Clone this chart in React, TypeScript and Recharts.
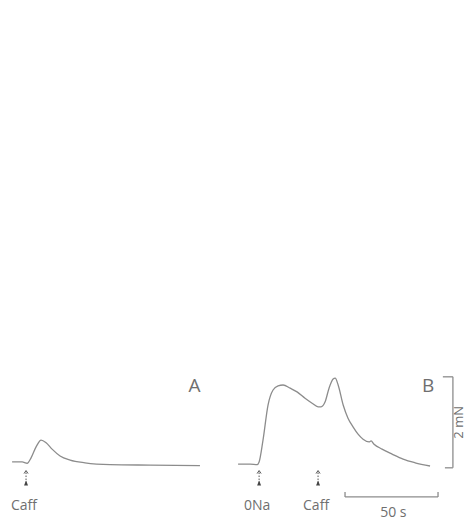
import React from 'react';
import { LineChart, Line, XAxis, YAxis, ReferenceLine, ReferenceDot } from 'recharts';

// Trace A: caffeine alone (time in s from trace start, force in mN)
const timeA = [0, 5.4, 8.1, 10.2, 12.9, 15.6, 18.3, 21.5, 25.8, 31.2, 39.2, 52.7, 74.2, 101];
const forceA = [0.09, 0.09, 0.06, 0.18, 0.42, 0.57, 0.51, 0.37, 0.22, 0.13, 0.07, 0.03, 0.02, 0.01];

// Trace B: 0Na then caffeine
const timeB = [0, 6.5, 10.2, 11.3, 13.4, 16.1, 18.8, 21.5, 24.2, 28, 31.7, 36, 39.8, 43, 44.6, 46.8, 48.9, 51.1, 52.2, 53.8, 56.5, 59.1, 61.8, 64.5, 67.2, 70.4, 71.5, 73.1, 77.4, 82.8, 88.7, 95.2, 103.2];
const forceB = [0.04, 0.04, 0.03, 0.09, 0.57, 1.34, 1.67, 1.76, 1.78, 1.71, 1.63, 1.49, 1.38, 1.3, 1.3, 1.41, 1.71, 1.91, 1.93, 1.78, 1.34, 1.05, 0.86, 0.7, 0.59, 0.53, 0.55, 0.48, 0.37, 0.26, 0.15, 0.07, 0.0];

// where each trace starts on the shared time axis (s)
const START_A = 6.5;
const START_B = 128;

// drug application markers: label, time within trace, trace start
const eventLabels = ['Caff', '0Na', 'Caff'];
const eventTimes = [7.5, 11.3, 43];
const eventStarts = [START_A, START_B, START_B];

const panelLabels = ['A', 'B'];
const panelLabelTimes = [104.6, 230.2];

// calibration
const FORCE_BAR = 2; // mN
const TIME_BAR = 50; // s
const forceBarLabel = '2 mN';
const timeBarLabel = '50 s';

const X_DOMAIN: [number, number] = [0, 254.3];
const Y_DOMAIN: [number, number] = [-1.187, 10.242];

const INK = '#8c8c8c';
const TEXT = '#6f6f6f';
const FONT = '"Open Sans", "DejaVu Sans", sans-serif';

const dataA = timeA.map((t, i) => ({ t: t + START_A, f: forceA[i] }));
const dataB = timeB.map((t, i) => ({ t: t + START_B, f: forceB[i] }));

const arrowShape = (label: string) => (p: any) => {
  const { cx, cy } = p;
  return (
    <g>
      <line x1={cx} y1={cy + 2} x2={cx} y2={cy + 14} stroke="#555" strokeWidth={1} strokeDasharray="1.5 1.5" />
      <path d={`M${cx - 2},${cy + 3} L${cx},${cy} L${cx + 2},${cy + 3}`} fill="none" stroke="#555" strokeWidth={1} />
      <path d={`M${cx - 2},${cy + 15} L${cx},${cy + 10} L${cx + 2},${cy + 15} Z`} fill="#444" />
      <text x={cx - 2} y={cy + 39} textAnchor="middle" fontSize={14} fontFamily={FONT} fill={TEXT}>
        {label}
      </text>
    </g>
  );
};

const panelShape = (label: string) => (p: any) => (
  <text x={p.cx} y={p.cy} textAnchor="middle" fontSize={19} fontFamily={FONT} fill={TEXT}>
    {label}
  </text>
);

const forceLabelShape = (p: any) => (
  <text
    x={p.cx}
    y={p.cy}
    textAnchor="middle"
    fontSize={13}
    fontFamily={FONT}
    fill={TEXT}
    transform={`rotate(-90 ${p.cx} ${p.cy})`}
  >
    {forceBarLabel}
  </text>
);

const timeLabelShape = (p: any) => (
  <text x={p.cx} y={p.cy} textAnchor="middle" fontSize={14} fontFamily={FONT} fill={TEXT}>
    {timeBarLabel}
  </text>
);

export default function App() {
  const fBarT = 243.5;
  const fBarLow = -0.04;
  const tBarStart = 185.5;
  const tBarV = -0.68;

  return (
    <div style={{ position: 'absolute', left: 0, top: 0, width: 473, height: 520, background: '#fff' }}>
      <LineChart width={473} height={520} margin={{ top: 0, right: 0, bottom: 0, left: 0 }}>
        <XAxis type="number" dataKey="t" domain={X_DOMAIN} allowDataOverflow hide />
        <YAxis type="number" domain={Y_DOMAIN} allowDataOverflow hide />

        <Line data={dataA} dataKey="f" type="monotone" stroke={INK} strokeWidth={1.3} dot={false} activeDot={false} isAnimationActive={false} />
        <Line data={dataB} dataKey="f" type="monotone" stroke={INK} strokeWidth={1.3} dot={false} activeDot={false} isAnimationActive={false} />

        {/* force calibration bracket */}
        <ReferenceLine segment={[{ x: fBarT, y: fBarLow }, { x: fBarT, y: fBarLow + FORCE_BAR }]} stroke={INK} strokeWidth={1.3} />
        <ReferenceLine segment={[{ x: fBarT - 5.4, y: fBarLow + FORCE_BAR }, { x: fBarT, y: fBarLow + FORCE_BAR }]} stroke={INK} strokeWidth={1.3} />
        <ReferenceLine segment={[{ x: fBarT - 4.3, y: fBarLow }, { x: fBarT, y: fBarLow }]} stroke={INK} strokeWidth={1.3} />
        <ReferenceDot x={fBarT + 5.4} y={fBarLow + FORCE_BAR / 2} r={0} shape={forceLabelShape} />

        {/* time calibration bar */}
        <ReferenceLine segment={[{ x: tBarStart, y: tBarV }, { x: tBarStart + TIME_BAR, y: tBarV }]} stroke={INK} strokeWidth={1.3} />
        <ReferenceLine segment={[{ x: tBarStart, y: tBarV }, { x: tBarStart, y: tBarV + 0.11 }]} stroke={INK} strokeWidth={1.3} />
        <ReferenceLine segment={[{ x: tBarStart + TIME_BAR, y: tBarV }, { x: tBarStart + TIME_BAR, y: tBarV + 0.11 }]} stroke={INK} strokeWidth={1.3} />
        <ReferenceDot x={tBarStart + TIME_BAR / 2 + 1} y={-1.12} r={0} shape={timeLabelShape} />

        {eventLabels.map((lab, i) => (
          <ReferenceDot key={i} x={eventTimes[i] + eventStarts[i]} y={-0.1} r={0} shape={arrowShape(lab)} />
        ))}

        {panelLabels.map((lab, i) => (
          <ReferenceDot key={lab} x={panelLabelTimes[i]} y={1.63} r={0} shape={panelShape(lab)} />
        ))}
      </LineChart>
    </div>
  );
}
